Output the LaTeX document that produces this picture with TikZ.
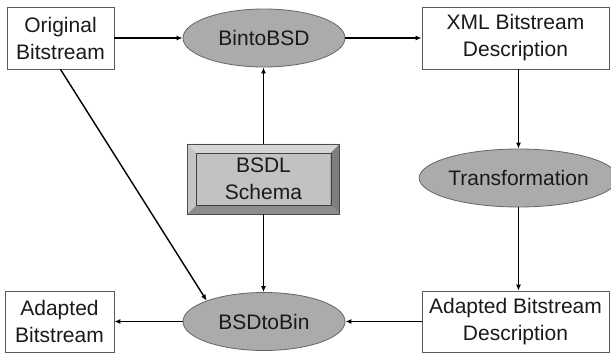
\documentclass[tikz,border=0pt]{standalone}
\usepackage{fontspec}
\setmainfont{Liberation Sans}
\usetikzlibrary{shapes.geometric,arrows.meta,calc}
\definecolor{ellfill}{HTML}{ABABAB}
\definecolor{txt}{HTML}{1A1A1A}
\definecolor{bevlight}{HTML}{D6D6D6}
\definecolor{bevdark}{HTML}{7E7E7E}
\definecolor{bevmid}{HTML}{8E8E8E}
\definecolor{face}{HTML}{C2C2C2}
\tikzset{
  box/.style={draw=gray!70!black, line width=0.8pt, fill=white, inner sep=0pt, align=center, text=txt,
    font=\fontsize{21}{27}\selectfont},
  proc/.style={ellipse, draw=gray!80!black, line width=0.8pt, fill=ellfill, inner sep=0pt, text=txt,
    minimum width=162pt, minimum height=58pt, font=\fontsize{21}{27}\selectfont},
  conn/.style={line width=1.4pt, -{Latex[length=6pt,width=5pt]}},
}
\begin{document}
\begin{tikzpicture}[x=1pt,y=-1pt]
\useasboundingbox (0,0) rectangle (611,356);
\fill[white] (0,0) rectangle (611,356);
% boxes
\node[box, minimum width=107pt, minimum height=62pt] (orig) at (60.5,38) {Original\\Bitstream};
\node[box, minimum width=187pt, minimum height=62pt] (xml) at (515.5,38) {XML Bitstream\\Description};
\node[box, minimum width=187pt, minimum height=61pt] (abd) at (515.5,321.5) {Adapted Bitstream\\Description};
\node[box, minimum width=109pt, minimum height=61pt] (ab) at (59.5,321.5) {Adapted\\Bitstream};
% ellipses
\node[proc] (b2bsd) at (264,38) {BintoBSD};
\node[proc] (trans) at (518.5,178) {Transformation};
\node[proc] (bsd2b) at (264,321.5) {BSDtoBin};
% bevel schema
\node[minimum width=152pt, minimum height=70pt, inner sep=0pt] (schema) at (263.5,179) {};
\fill[face] ($(schema.north west)+(9,9)$) rectangle ($(schema.south east)+(-9,-9)$);
\fill[bevlight] (schema.north west) -- (schema.north east) -- ($(schema.north east)+(-9,9)$) -- ($(schema.north west)+(9,9)$) -- cycle;
\fill[bevlight!92!black] (schema.north west) -- ($(schema.north west)+(9,9)$) -- ($(schema.south west)+(9,-9)$) -- (schema.south west) -- cycle;
\fill[bevdark] (schema.north east) -- (schema.south east) -- ($(schema.south east)+(-9,-9)$) -- ($(schema.north east)+(-9,9)$) -- cycle;
\fill[bevmid] (schema.south west) -- (schema.south east) -- ($(schema.south east)+(-9,-9)$) -- ($(schema.south west)+(9,-9)$) -- cycle;
\draw[gray!60!black, line width=0.6pt] (schema.north west) rectangle (schema.south east);
\draw[gray!50!black, line width=0.3pt] ($(schema.north west)+(9,9)$) rectangle ($(schema.south east)+(-9,-9)$);
\node[align=center, text=txt, font=\fontsize{21}{27}\selectfont] (schematxt) at (schema.center) {BSDL\\Schema};
% connectors
\draw[conn] (orig.east) -- (b2bsd.west);
\draw[conn] (b2bsd.east) -- (xml.west);
\draw[conn] (schema.north) -- (schema.north |- b2bsd.south);
\draw[conn] (schema.south) -- (schema.south |- bsd2b.north);
\draw[conn] (trans.north |- xml.south) -- (trans.north);
\draw[conn] (trans.south) -- (trans.south |- abd.north);
\draw[conn] (abd.west) -- (bsd2b.east);
\draw[conn] (bsd2b.west) -- (ab.east);
\draw[conn] (orig.south) -- (bsd2b.160);
\end{tikzpicture}
\end{document}
